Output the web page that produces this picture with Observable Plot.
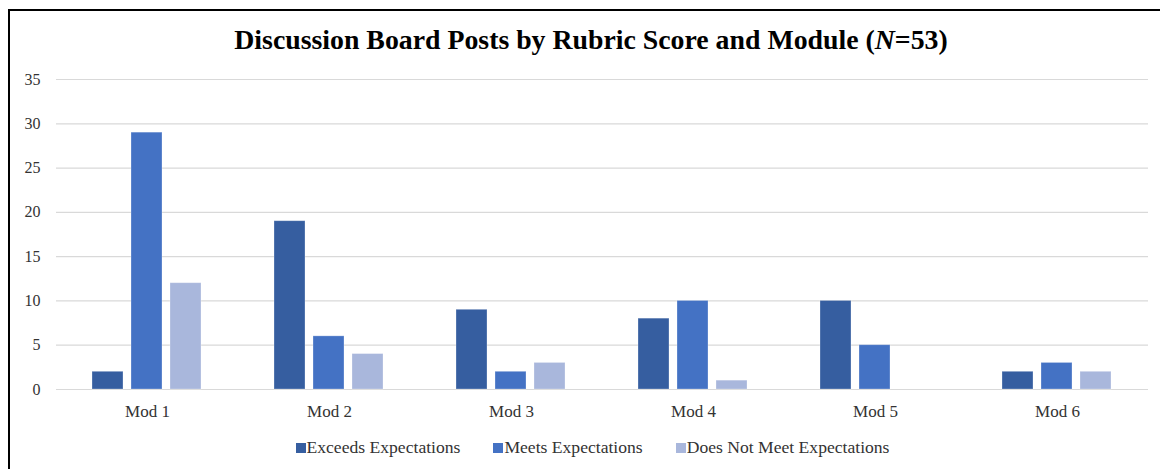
<!DOCTYPE html>
<html>
<head>
<meta charset="utf-8">
<script src="https://cdn.jsdelivr.net/npm/d3@7"></script>
<script src="https://cdn.jsdelivr.net/npm/@observablehq/plot@0.6"></script>
<style>
  body { margin: 0; background: #fff; font-family: "Liberation Serif", "Times New Roman", serif; }
  #wrap { position: relative; width: 1160px; height: 469px; overflow: hidden; }
  #frame { position: absolute; left: 8px; top: 9px; width: 1200px; height: 500px; border: 2px solid #000; }
  #title { position: absolute; left: 0; top: 24px; width: 1182px; text-align: center;
           font-weight: bold; font-size: 27.8px; color: #000; white-space: nowrap; }
  #chart { position: absolute; left: 0; top: 60px; }
  #legend { position: absolute; left: 0; top: 437px; width: 1185px; display: flex; justify-content: center;
            gap: 33px; font-size: 17.6px; color: #333; white-space: nowrap; }
  #legend .item { display: flex; align-items: center; gap: 1px; }
  #legend .sw { width: 10px; height: 10px; display: inline-block; }
</style>
</head>
<body>
<div id="wrap">
  <div id="frame"></div>
  <div id="title">Discussion Board Posts by Rubric Score and Module (<i>N</i>=53)</div>
  <div id="chart"></div>
  <div id="legend"></div>
</div>
<script>
// Modules, rubric levels and post counts per module
const modules = ["Mod 1", "Mod 2", "Mod 3", "Mod 4", "Mod 5", "Mod 6"];
const levels = ["Exceeds Expectations", "Meets Expectations", "Does Not Meet Expectations"];
const exceeds = [2, 19, 9, 8, 10, 2];
const meets = [29, 6, 2, 10, 5, 3];
const doesNotMeet = [12, 4, 3, 1, 0, 2];
const colors = ["#365EA0", "#4472C4", "#A9B7DC"];
const yTicks = [0, 5, 10, 15, 20, 25, 30, 35];

const seriesValues = [exceeds, meets, doesNotMeet];
const rows = [];
modules.forEach((m, i) => {
  levels.forEach((lvl, j) => rows.push({ module: m, level: lvl, value: seriesValues[j][i] }));
});

// Module facets touch each other so the gridlines run unbroken across the plot;
// the bar clusters are centred inside each facet by the outer padding of x.
const chart = Plot.plot({
  width: 1160,
  height: 360,
  marginTop: 19,
  marginBottom: 31,
  marginLeft: 54,
  marginRight: 10,
  style: "font-family: 'Liberation Serif', 'Times New Roman', serif; font-size: 16px; color: #333; background: transparent;",
  fx: { domain: modules, padding: 0, label: null },
  x: { domain: levels, paddingInner: 0.2, paddingOuter: 0.88, axis: null },
  y: { domain: [0, 35], ticks: yTicks, label: null },
  color: { domain: levels, range: colors },
  marks: [
    Plot.gridY(yTicks, { stroke: "#d9d9d9", strokeOpacity: 1, strokeWidth: 1.2 }),
    Plot.barY(rows, { fx: "module", x: "level", y: "value", fill: "level", stroke: "#ffffff", strokeOpacity: 0.35, strokeWidth: 0.8 }),
    Plot.axisY(yTicks, { tickSize: 0, tickPadding: 16, label: null }),
    Plot.axisFx({ anchor: "bottom", tickSize: 0, tickPadding: 15, label: null, fontSize: 17 })
  ]
});
document.getElementById("chart").append(chart);

// Legend below the plot
const legend = document.getElementById("legend");
levels.forEach((lvl, i) => {
  const item = document.createElement("span");
  item.className = "item";
  const sw = document.createElement("span");
  sw.className = "sw";
  sw.style.background = colors[i];
  item.append(sw, document.createTextNode(lvl));
  legend.append(item);
});
</script>
</body>
</html>
